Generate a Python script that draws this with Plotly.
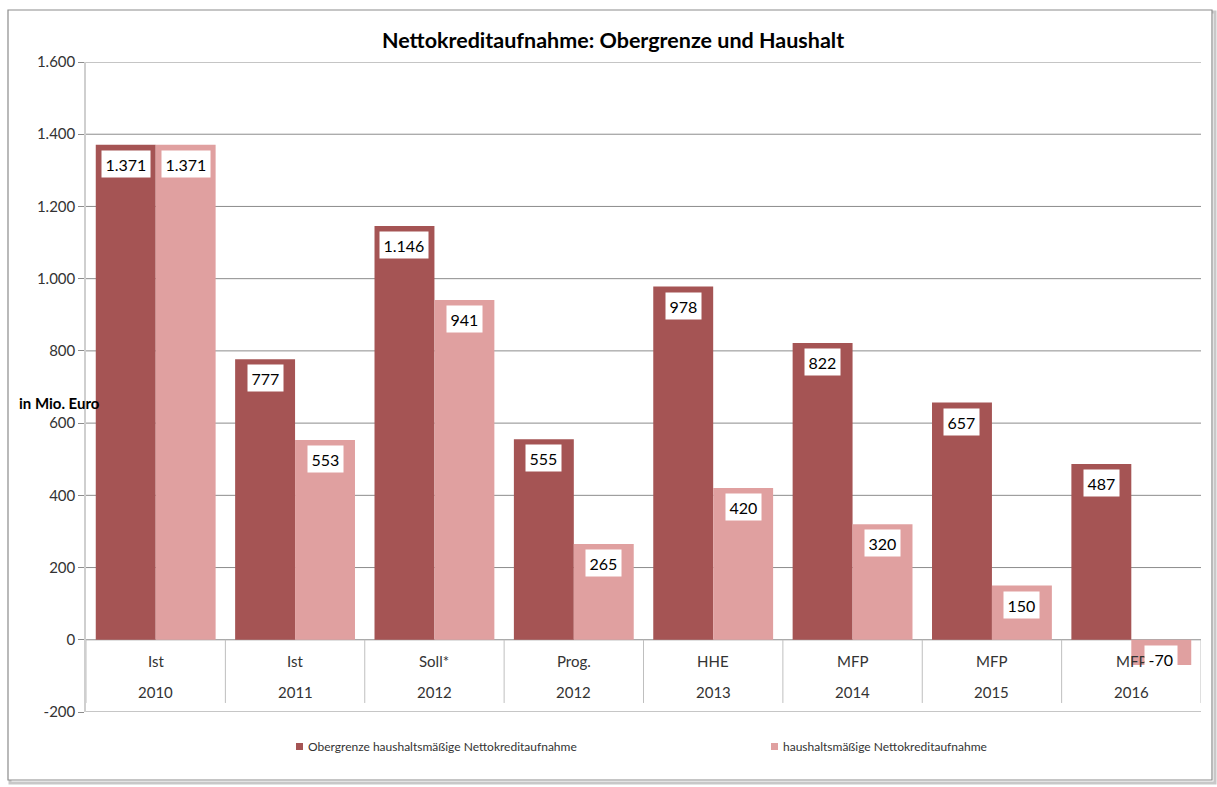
import plotly.graph_objects as go

# Chart data
labels_top = ["Ist", "Ist", "Soll*", "Prog.", "HHE", "MFP", "MFP", "MFP"]
labels_year = ["2010", "2011", "2012", "2012", "2013", "2014", "2015", "2016"]
obergrenze = [1371, 777, 1146, 555, 978, 822, 657, 487]
haushalt = [1371, 553, 941, 265, 420, 320, 150, -70]
value_text_ober = ["1.371", "777", "1.146", "555", "978", "822", "657", "487"]
value_text_haus = ["1.371", "553", "941", "265", "420", "320", "150", "-70"]
y_ticks = [-200, 0, 200, 400, 600, 800, 1000, 1200, 1400, 1600]
y_tick_text = ["-200", "0", "200", "400", "600", "800", "1.000", "1.200", "1.400", "1.600"]
series_names = ["Obergrenze haushaltsmäßige Nettokreditaufnahme",
                "haushaltsmäßige Nettokreditaufnahme"]

DARK = "#A55454"
LIGHT = "#E0A0A0"
FONT = "Lato"

W, H = 1217, 787
ML, MR, MT, MB = 86, 16, 62, 75
PW, PH = W - ML - MR, H - MT - MB


def px_x(p):
    return (p - ML) / PW


def px_y(p):
    return (H - MB - p) / PH


xs = list(range(len(labels_top)))
BW = 0.43

fig = go.Figure()
fig.add_trace(go.Bar(x=xs, y=obergrenze, width=BW, offset=-BW, marker_color=DARK,
                     marker_line_width=0, name=series_names[0], showlegend=False))
fig.add_trace(go.Bar(x=xs, y=haushalt, width=BW, offset=0, marker_color=LIGHT,
                     marker_line_width=0, name=series_names[1], showlegend=False))

shapes = []
# chart frame with soft shadow
shapes.append(dict(type="rect", xref="paper", yref="paper", layer="below",
                   x0=px_x(10), x1=px_x(1215), y0=px_y(783), y1=px_y(12),
                   line=dict(color="#c8c8c8", width=3)))
shapes.append(dict(type="rect", xref="paper", yref="paper", layer="below",
                   x0=px_x(8), x1=px_x(1212), y0=px_y(780), y1=px_y(10),
                   line=dict(color="#8c8c8c", width=1.2), fillcolor="white"))
# horizontal gridlines
for t in y_ticks:
    shapes.append(dict(type="line", xref="paper", yref="y", layer="below",
                       x0=0, x1=1, y0=t, y1=t, line=dict(color="#8c8c8c", width=1)))
# category dividers below the zero line
for i in range(len(labels_top) + 1):
    shapes.append(dict(type="line", xref="x", yref="y", layer="below",
                       x0=i - 0.5, x1=i - 0.5, y0=0, y1=-175,
                       line=dict(color="#bfbfbf", width=1)))
# legend swatches
for cx, col in [(300, DARK), (775, LIGHT)]:
    shapes.append(dict(type="rect", xref="paper", yref="paper",
                       x0=px_x(cx - 4), x1=px_x(cx + 3), y0=px_y(750), y1=px_y(743),
                       fillcolor=col, line=dict(width=0)))

annotations = []
# two-row category labels
for i in xs:
    annotations.append(dict(x=i, y=px_y(661), xref="x", yref="paper", text=labels_top[i],
                            showarrow=False, yanchor="middle",
                            font=dict(family=FONT, size=15, color="#333333")))
    annotations.append(dict(x=i, y=px_y(692), xref="x", yref="paper", text=labels_year[i],
                            showarrow=False, yanchor="middle",
                            font=dict(family=FONT, size=15, color="#333333")))

# value labels in white boxes at the bar ends
for vals, texts, off in [(obergrenze, value_text_ober, -BW / 2), (haushalt, value_text_haus, BW / 2)]:
    for i, (v, t) in enumerate(zip(vals, texts)):
        if v >= 0:
            annotations.append(dict(x=i + off, y=v, xref="x", yref="y", text=t,
                                    showarrow=False, yanchor="top", yshift=-5,
                                    bgcolor="white", borderpad=3.5,
                                    font=dict(family=FONT, size=16, color="black")))
        else:
            annotations.append(dict(x=i + off, y=v, xref="x", yref="y", text=t,
                                    showarrow=False, yanchor="middle", yshift=6,
                                    bgcolor="white", borderpad=3.5,
                                    font=dict(family=FONT, size=16, color="black")))

# title
annotations.append(dict(x=px_x(613), y=px_y(40), xref="paper", yref="paper",
                        yanchor="middle",
                        text="<b>Nettokreditaufnahme: Obergrenze und Haushalt</b>",
                        showarrow=False, font=dict(family=FONT, size=21.5, color="black")))
# y-axis caption
annotations.append(dict(x=px_x(17), y=px_y(403), xref="paper", yref="paper", xanchor="left",
                        yanchor="middle", text="<b>in Mio. Euro</b>", showarrow=False,
                        font=dict(family=FONT, size=15, color="black")))
# legend texts
for tx, name in [(306, series_names[0]), (781, series_names[1])]:
    annotations.append(dict(x=px_x(tx), y=px_y(746), xref="paper", yref="paper",
                            xanchor="left", yanchor="middle", text=name, showarrow=False,
                            font=dict(family=FONT, size=12, color="#333333")))

fig.update_layout(
    width=W, height=H,
    margin=dict(l=ML, r=MR, t=MT, b=MB),
    paper_bgcolor="white", plot_bgcolor="rgba(0,0,0,0)",
    barmode="overlay",
    showlegend=False,
    shapes=shapes,
    annotations=annotations,
    xaxis=dict(range=[-0.5, len(xs) - 0.5], showticklabels=False, showgrid=False,
               zeroline=False, showline=False, fixedrange=True),
    yaxis=dict(range=[-200, 1600], tickvals=y_ticks, ticktext=y_tick_text,
               showgrid=False, zeroline=False, showline=True, linecolor="#cfcfcf",
               linewidth=1.5, ticks="outside", ticklen=6, tickcolor="#8c8c8c",
               tickfont=dict(family=FONT, size=15, color="#333333"), fixedrange=True),
)

fig.write_html("out.html")
